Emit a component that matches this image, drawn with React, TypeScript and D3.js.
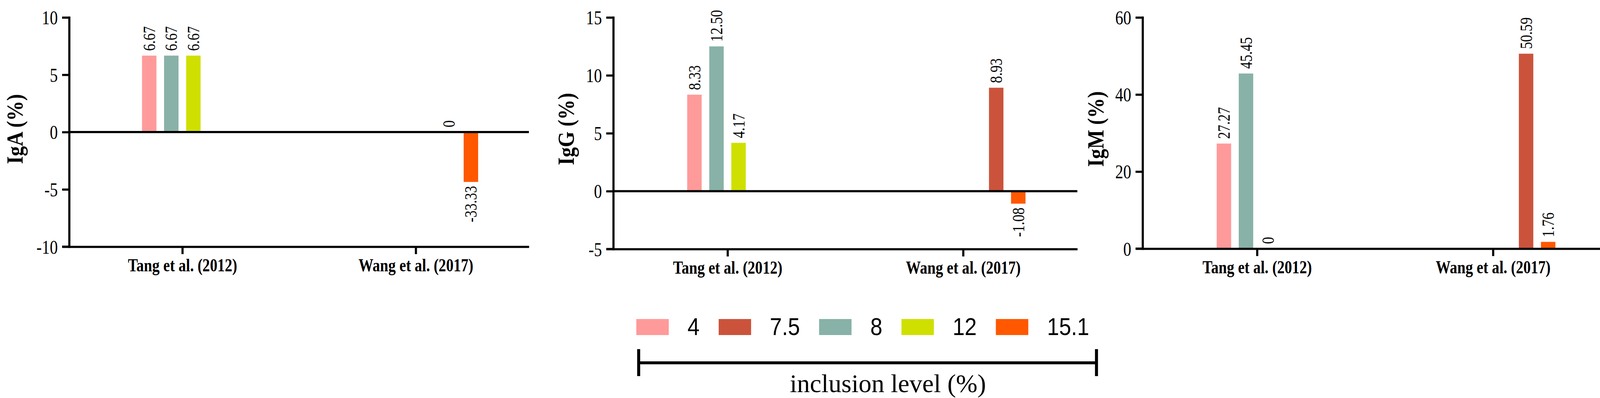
import { useRef, useEffect } from 'react';
import * as d3 from 'd3';

const W = 4127;
const H = 1018;

const categories = ['Tang et al. (2012)', 'Wang et al. (2017)'];
const levels = ['4', '7.5', '8', '12', '15.1'];
const levelColors = ['#FF9A9A', '#CB533B', '#88B2A7', '#CFE000', '#FF5800'];
// GraphPad slot order inside a group (first slot is an empty column)
const slotOrder = ['', '4', '8', '12', '7.5', '15.1'];

// values in level order: 4, 7.5, 8, 12, 15.1 (null = not reported)
const igaTang = [6.67, null, 6.67, 6.67, null];
const igaWang = [null, 0, null, null, -4.35];
const igaTangLabels = ['6.67', null, '6.67', '6.67', null];
const igaWangLabels = [null, '0', null, null, '-33.33'];

const iggTang = [8.33, null, 12.5, 4.17, null];
const iggWang = [null, 8.93, null, null, -1.08];
const iggTangLabels = ['8.33', null, '12.50', '4.17', null];
const iggWangLabels = [null, '8.93', null, null, '-1.08'];

const igmTang = [27.27, null, 45.45, 0, null];
const igmWang = [null, 50.59, null, null, 1.76];
const igmTangLabels = ['27.27', null, '45.45', '0', null];
const igmWangLabels = [null, '50.59', null, null, '1.76'];

const igaTicks = [-10, -5, 0, 5, 10];
const iggTicks = [-5, 0, 5, 10, 15];
const igmTicks = [0, 20, 40, 60];

const panels = [
  {
    title: 'IgA (%)', domain: [-10, 10], ticks: igaTicks,
    values: [igaTang, igaWang], labels: [igaTangLabels, igaWangLabels],
    x0: 177, x1: 1354, yTop: 44.6, yBottom: 631, titleOffset: 119,
  },
  {
    title: 'IgG (%)', domain: [-5, 15], ticks: iggTicks,
    values: [iggTang, iggWang], labels: [iggTangLabels, iggWangLabels],
    x0: 1570, x1: 2758, yTop: 44.6, yBottom: 637, titleOffset: 101,
  },
  {
    title: 'IgM (%)', domain: [0, 60], ticks: igmTicks,
    values: [igmTang, igmWang], labels: [igmTangLabels, igmWangLabels],
    x0: 2925, x1: 4115, yTop: 44.6, yBottom: 636, titleOffset: 100,
  },
];

const serif = '"Liberation Serif", "Times New Roman", serif';
const sans = '"Liberation Sans", Arial, sans-serif';
const LINE = 5.5;

export default function App() {
  const svgRef = useRef<SVGSVGElement>(null);

  useEffect(() => {
    if (!svgRef.current) return;
    const svg = d3.select(svgRef.current);
    svg.selectAll('*').remove();

    panels.forEach((p) => {
      const g = svg.append('g');
      const y = d3.scaleLinear().domain(p.domain).range([p.yBottom, p.yTop]);
      const x = d3.scalePoint<string>().domain(categories).range([p.x0, p.x1]).padding(0.485);
      const slotStep = 56.5;
      const slot = d3.scaleBand<string>()
        .domain(slotOrder)
        .range([-3 * slotStep, 3 * slotStep])
        .paddingInner(0.345)
        .paddingOuter(0.1725);

      // bars + value labels
      categories.forEach((cat, ci) => {
        const vals = p.values[ci];
        const labs = p.labels[ci];
        levels.forEach((lv, li) => {
          const v = vals[li];
          if (v === null) return;
          const bx = (x(cat) as number) + (slot(lv) as number);
          const y0 = y(0);
          const yv = y(v);
          if (v !== 0) {
            g.append('rect')
              .attr('x', bx)
              .attr('y', Math.min(y0, yv))
              .attr('width', slot.bandwidth())
              .attr('height', Math.abs(yv - y0))
              .attr('fill', levelColors[li]);
          }
          const lab = labs[li];
          if (lab) {
            const cx = bx + slot.bandwidth() / 2;
            const ly = v >= 0 ? yv - 12 : yv + 10;
            g.append('text')
              .attr('transform', `translate(${cx},${ly}) rotate(-90) scale(0.82,1)`)
              .attr('text-anchor', v >= 0 ? 'start' : 'end')
              .attr('dy', '0.34em')
              .attr('font-family', serif)
              .attr('font-size', 44)
              .attr('fill', '#000')
              .text(lab);
          }
        });
      });

      // zero line when domain crosses zero
      if (p.domain[0] < 0) {
        g.append('line')
          .attr('x1', p.x0).attr('x2', p.x1)
          .attr('y1', y(0)).attr('y2', y(0))
          .attr('stroke', '#000').attr('stroke-width', LINE);
      }

      // y axis
      const yAxis = g.append('g')
        .attr('transform', `translate(${p.x0},0)`)
        .call(d3.axisLeft(y).tickValues(p.ticks).tickSize(18).tickSizeOuter(0).tickFormat((d) => String(d)));
      yAxis.attr('font-family', serif);
      yAxis.select('.domain').attr('stroke-width', LINE).attr('stroke-linecap', 'square');
      yAxis.selectAll('.tick line').attr('stroke-width', LINE);
      yAxis.selectAll('.tick text')
        .attr('x', null)
        .attr('dy', null)
        .attr('transform', 'translate(-29,17) scale(0.82,1)')
        .attr('text-anchor', 'end')
        .attr('font-family', serif)
        .attr('font-size', 50)
        .attr('fill', '#000');

      // x axis at the bottom
      const xAxis = g.append('g')
        .attr('transform', `translate(0,${p.yBottom})`)
        .call(d3.axisBottom(x).tickSize(19).tickSizeOuter(0));
      xAxis.attr('font-family', serif);
      xAxis.select('.domain').attr('stroke-width', LINE);
      xAxis.selectAll('.tick line').attr('stroke-width', LINE);
      xAxis.selectAll('.tick text')
        .attr('y', null)
        .attr('dy', null)
        .attr('transform', 'translate(0,63) scale(0.81,1)')
        .attr('text-anchor', 'middle')
        .attr('font-family', serif)
        .attr('font-weight', 'bold')
        .attr('font-size', 47)
        .attr('fill', '#000');
      // bottom line reaches the left end of the lowest y tick
      g.append('line')
        .attr('x1', p.x0 - 18).attr('x2', p.x0)
        .attr('y1', p.yBottom).attr('y2', p.yBottom)
        .attr('stroke', '#000').attr('stroke-width', LINE);

      // y title
      g.append('text')
        .attr('transform', `translate(${p.x0 - p.titleOffset},330) rotate(-90) scale(0.86,1)`)
        .attr('text-anchor', 'middle')
        .attr('font-family', serif)
        .attr('font-weight', 'bold')
        .attr('font-size', 60)
        .attr('fill', '#000')
        .text(p.title);
    });

    // legend
    const legend = svg.append('g');
    let lx = 1629;
    const legendScale = 0.88;
    levels.forEach((lv, i) => {
      legend.append('rect')
        .attr('x', lx).attr('y', 816)
        .attr('width', 83).attr('height', 41)
        .attr('fill', levelColors[i]);
      const t = legend.append('text')
        .attr('transform', `translate(${lx + 131},857) scale(${legendScale},1)`)
        .attr('font-family', sans)
        .attr('font-size', 63)
        .attr('fill', '#000')
        .text(lv);
      const tw = (t.node() as SVGTextElement).getComputedTextLength() * legendScale;
      lx = lx + 131 + tw + 49;
    });

    // bracket under the legend
    const br = svg.append('g').attr('stroke', '#000').attr('stroke-width', 7.7);
    br.append('line').attr('x1', 1635).attr('x2', 2807).attr('y1', 928).attr('y2', 928);
    br.append('line').attr('x1', 1635).attr('x2', 1635).attr('y1', 893).attr('y2', 962);
    br.append('line').attr('x1', 2807).attr('x2', 2807).attr('y1', 893).attr('y2', 962);

    svg.append('text')
      .attr('x', 2022).attr('y', 1003)
      .attr('font-family', serif)
      .attr('font-size', 66)
      .attr('fill', '#000')
      .text('inclusion level (%)');
  }, []);

  return (
    <svg
      ref={svgRef}
      width={W}
      height={H}
      style={{ position: 'absolute', left: 0, top: 0, background: '#fff' }}
    />
  );
}
